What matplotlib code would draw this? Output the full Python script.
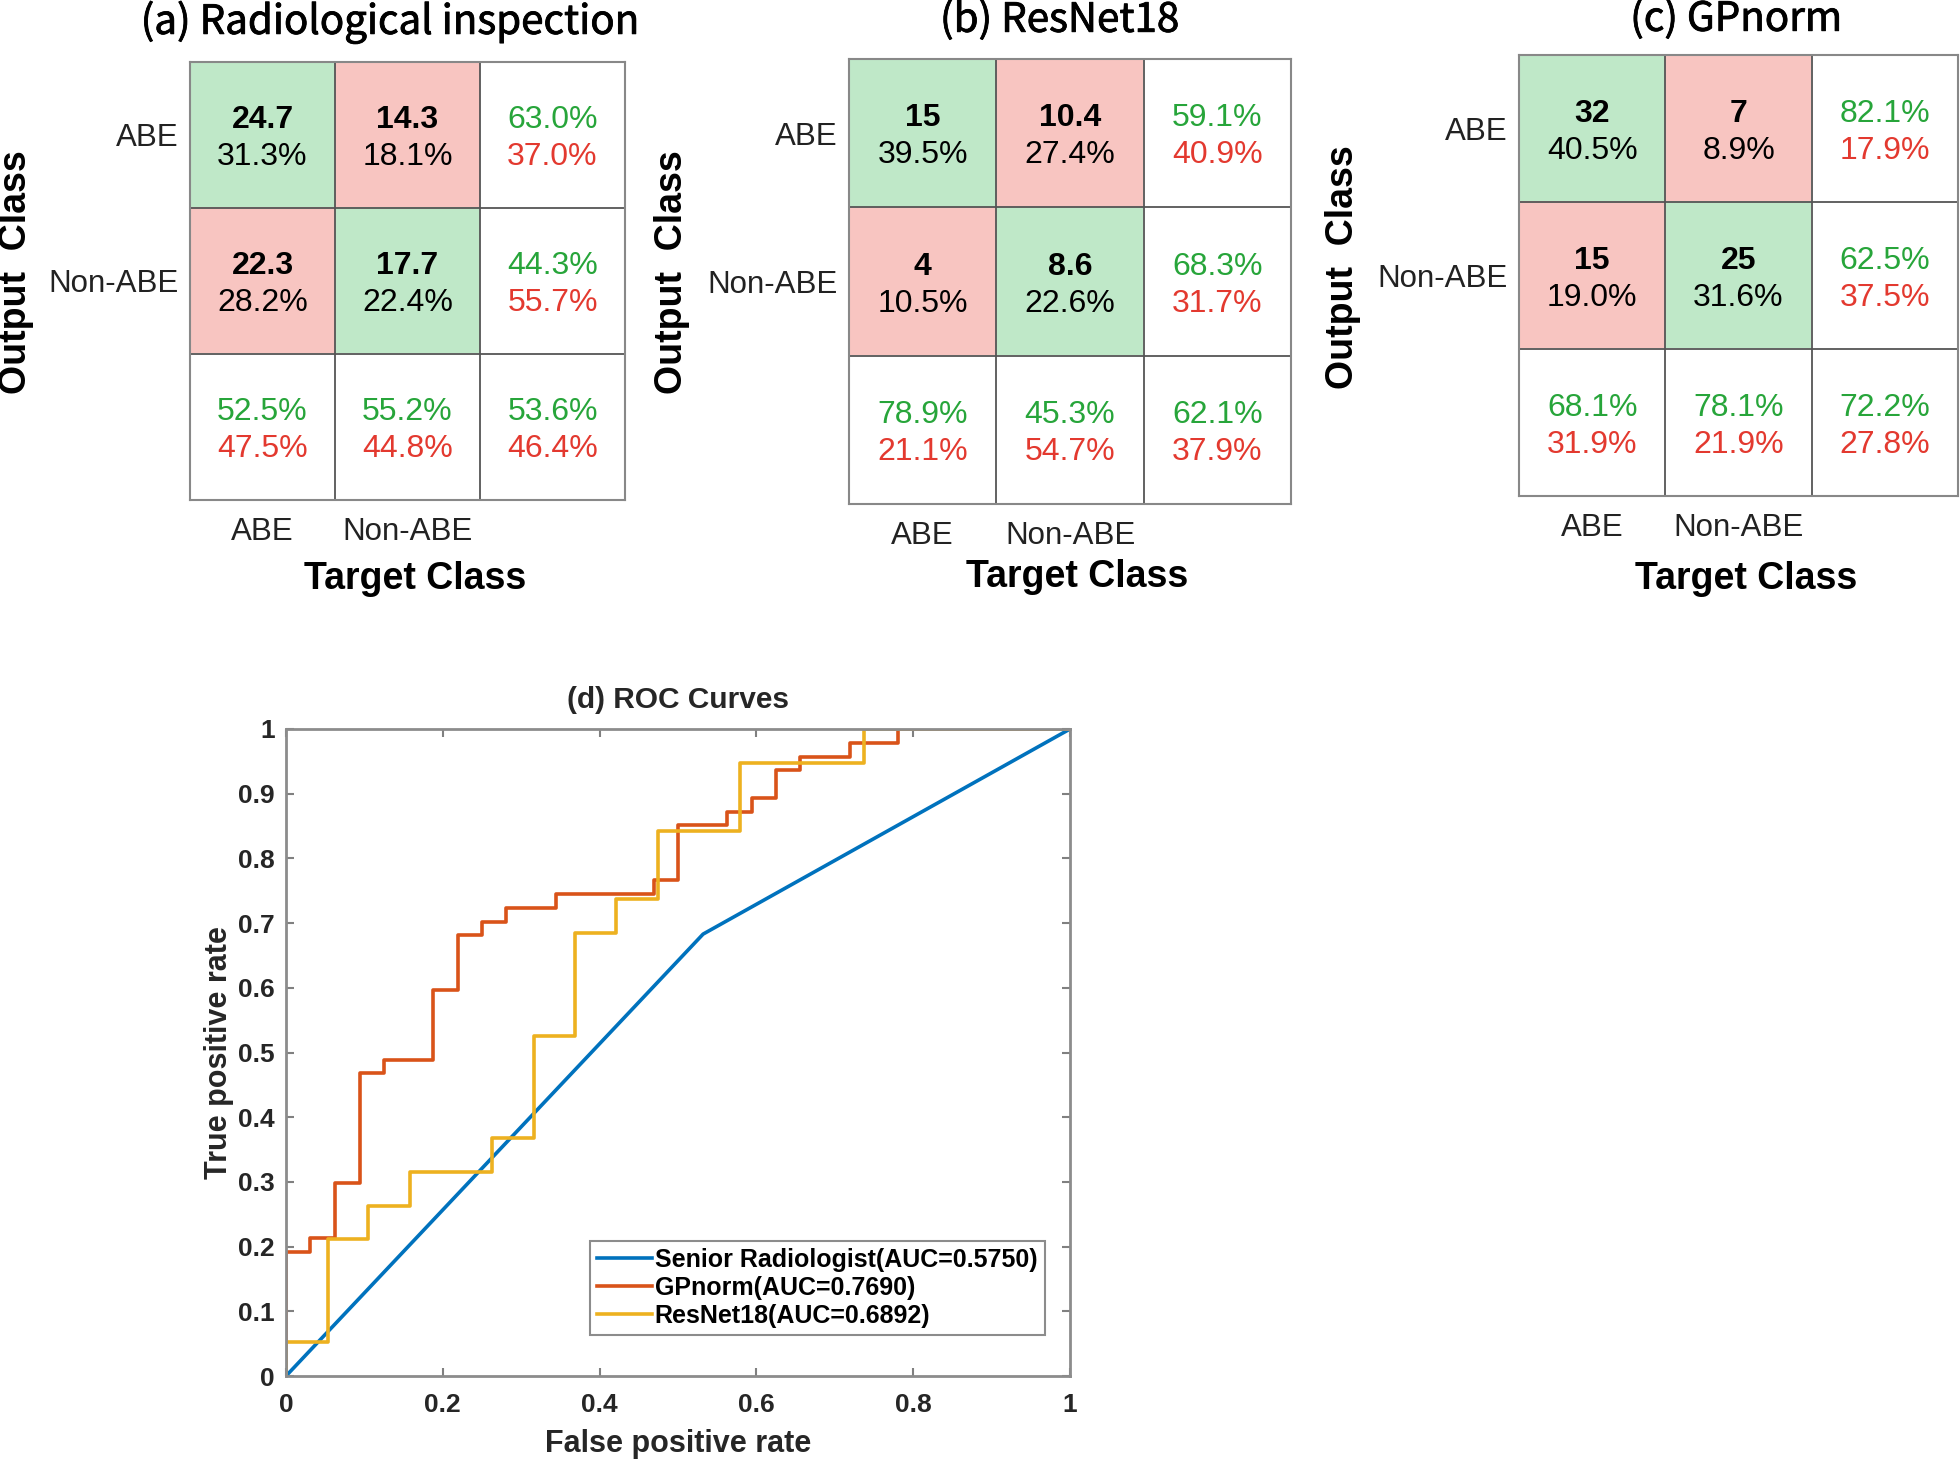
import numpy as np
import matplotlib
matplotlib.use("Agg")
import matplotlib.pyplot as plt
from matplotlib import ticker
import matplotlib.patheffects as pe

plt.rcParams['font.family'] = ['Liberation Sans', 'DejaVu Sans']

classes = ["ABE", "Non-ABE"]

# (a) Radiological inspection
rad_counts = [[24.7, 14.3], [22.3, 17.7]]
rad_pct = [[31.3, 18.1], [28.2, 22.4]]
rad_row = [[63.0, 37.0], [44.3, 55.7]]
rad_col = [[52.5, 47.5], [55.2, 44.8]]
rad_all = [53.6, 46.4]

# (b) ResNet18
res_counts = [[15, 10.4], [4, 8.6]]
res_pct = [[39.5, 27.4], [10.5, 22.6]]
res_row = [[59.1, 40.9], [68.3, 31.7]]
res_col = [[78.9, 21.1], [45.3, 54.7]]
res_all = [62.1, 37.9]

# (c) GPnorm
gp_counts = [[32, 7], [15, 25]]
gp_pct = [[40.5, 8.9], [19.0, 31.6]]
gp_row = [[82.1, 17.9], [62.5, 37.5]]
gp_col = [[68.1, 31.9], [78.1, 21.9]]
gp_all = [72.2, 27.8]

titles = ["(a) Radiological inspection", "(b) ResNet18", "(c) GPnorm"]

# (d) ROC curves
sr_fpr = [0, 0.532, 1]
sr_tpr = [0, 0.683, 1]
gp_fpr = [0, 0, 0.031, 0.063, 0.094, 0.125, 0.188, 0.219, 0.25, 0.281, 0.344,
          0.469, 0.5, 0.563, 0.594, 0.625, 0.656, 0.719, 0.781, 1]
gp_tpr = [0, 0.191, 0.213, 0.298, 0.468, 0.489, 0.596, 0.681, 0.702, 0.723, 0.745,
          0.766, 0.851, 0.872, 0.894, 0.936, 0.957, 0.979, 1.0, 1.0]
rn_fpr = [0, 0, 0.053, 0.105, 0.158, 0.263, 0.316, 0.368, 0.421, 0.474, 0.579, 0.737, 1]
rn_tpr = [0, 0.053, 0.211, 0.263, 0.316, 0.368, 0.526, 0.684, 0.737, 0.842, 0.947, 1.0, 1.0]
roc_names = ["Senior Radiologist(AUC=0.5750)", "GPnorm(AUC=0.7690)", "ResNet18(AUC=0.6892)"]

GREEN_BG = np.array([191, 232, 200]) / 255
RED_BG = np.array([248, 197, 193]) / 255
GREEN_TXT = "#27a53a"
RED_TXT = "#e3392f"
FS = 23


def draw_confusion(ax, counts, pct, row, col, overall, title, title_x, title_y, target_y):
    counts = np.array(counts)
    rgb = np.ones((3, 3, 3))
    for i in range(2):
        for j in range(2):
            rgb[i, j] = GREEN_BG if i == j else RED_BG
    ax.imshow(rgb, extent=(0, 3, 3, 0), aspect='auto')
    for k in range(1, 3):
        ax.axhline(k, color='#555555', lw=1.3)
        ax.axvline(k, color='#555555', lw=1.3)
    for s in ax.spines.values():
        s.set_color('#888888')
        s.set_linewidth(1.5)

    top, bot = 0.4, 0.65
    for i in range(2):
        for j in range(2):
            ax.text(j + 0.5, i + top, f"{counts[i, j]:g}", ha='center', va='center',
                    fontsize=FS, fontweight='bold')
            ax.text(j + 0.5, i + bot, f"{pct[i][j]:.1f}%", ha='center', va='center', fontsize=FS)
        # row summary (right column)
        ax.text(2.5, i + top, f"{row[i][0]:.1f}%", ha='center', va='center', fontsize=FS, color=GREEN_TXT)
        ax.text(2.5, i + bot, f"{row[i][1]:.1f}%", ha='center', va='center', fontsize=FS, color=RED_TXT)
        # column summary (bottom row)
        ax.text(i + 0.5, 2 + top, f"{col[i][0]:.1f}%", ha='center', va='center', fontsize=FS, color=GREEN_TXT)
        ax.text(i + 0.5, 2 + bot, f"{col[i][1]:.1f}%", ha='center', va='center', fontsize=FS, color=RED_TXT)
    ax.text(2.5, 2 + top, f"{overall[0]:.1f}%", ha='center', va='center', fontsize=FS, color=GREEN_TXT)
    ax.text(2.5, 2 + bot, f"{overall[1]:.1f}%", ha='center', va='center', fontsize=FS, color=RED_TXT)

    ax.set_xlim(0, 3)
    ax.set_ylim(3, 0)
    ax.set_xticks([0.5, 1.5])
    ax.set_xticklabels(classes)
    ax.set_yticks([0.5, 1.5])
    ax.set_yticklabels(classes)
    ax.tick_params(length=0, labelsize=22.5, colors='#222222')
    ax.tick_params(axis='x', pad=12)
    ax.tick_params(axis='y', pad=8)
    ax.set_ylabel("Output  Class", fontsize=27, fontweight='bold', va='center')
    ax.yaxis.set_label_coords(-0.40, 0.52)
    ax.set_xlabel("Target Class", fontsize=27, fontweight='bold', va='center')
    ax.xaxis.set_label_coords(0.517, target_y)
    ax.text(title_x, title_y, title, transform=ax.transAxes, ha='center', va='center',
            fontsize=29, family=['Noto Sans CJK SC', 'DejaVu Sans'],
            path_effects=[pe.withStroke(linewidth=0.6, foreground='black')])


fig = plt.figure(figsize=(19.6, 14.64), dpi=100)

W, H = 1960, 1464
boxes = [(190, 62, 625, 500), (849, 59, 1291, 504), (1519, 55, 1958, 496)]
title_xs = [0.46, 0.477, 0.495]
title_ys = [1.092, 1.088, 1.082]
target_ys = [-0.18, -0.165, -0.188]
panels = [
    (rad_counts, rad_pct, rad_row, rad_col, rad_all),
    (res_counts, res_pct, res_row, res_col, res_all),
    (gp_counts, gp_pct, gp_row, gp_col, gp_all),
]
for (x0, y0, x1, y1), data, title, tx, tyy, ty in zip(boxes, panels, titles, title_xs, title_ys, target_ys):
    ax = fig.add_axes([x0 / W, 1 - y1 / H, (x1 - x0) / W, (y1 - y0) / H])
    draw_confusion(ax, *data, title, tx, tyy, ty)

# ROC panel
ax = fig.add_axes([286 / W, 1 - 1376 / H, (1070 - 286) / W, (1376 - 729) / H])
ax.plot(sr_fpr, sr_tpr, color='#0072BD', lw=2.6, label=roc_names[0])
ax.step(gp_fpr, gp_tpr, where='post', color='#D95319', lw=2.6, label=roc_names[1])
ax.step(rn_fpr, rn_tpr, where='post', color='#EDB120', lw=2.6, label=roc_names[2])
ax.set_xlim(0, 1)
ax.set_ylim(0, 1)
ax.set_xticks(np.arange(0, 1.01, 0.2))
ax.set_yticks(np.arange(0, 1.01, 0.1))
ax.xaxis.set_major_formatter(ticker.FormatStrFormatter('%g'))
ax.yaxis.set_major_formatter(ticker.FormatStrFormatter('%g'))
ax.tick_params(direction='in', top=True, right=True, length=6, width=1.5,
               color='#808080', labelsize=19, labelcolor='#262626')
ax.tick_params(axis='x', pad=12)
ax.tick_params(axis='y', pad=8)
for lab in ax.get_xticklabels() + ax.get_yticklabels():
    lab.set_fontweight('bold')
for s in ax.spines.values():
    s.set_color('#8c8c8c')
    s.set_linewidth(2)
ax.set_title("(d) ROC Curves", fontsize=21.5, fontweight='bold', color='#262626', pad=15)
ax.set_xlabel("False positive rate", fontsize=22, fontweight='bold', color='#262626', va='center')
ax.set_ylabel("True positive rate", fontsize=22, fontweight='bold', color='#262626', va='center')
ax.xaxis.set_label_coords(0.5, -0.105)
ax.yaxis.set_label_coords(-0.0855, 0.5)
leg = ax.legend(loc='lower right', bbox_to_anchor=(0.968, 0.063), borderaxespad=0,
                prop={'weight': 'bold', 'size': 18}, fancybox=False,
                handlelength=2.2, handletextpad=0.1, borderpad=0.3, labelspacing=0.15,
                framealpha=1, edgecolor='#8c8c8c')
leg.get_frame().set_linewidth(1.5)

fig.savefig("out.png", dpi=100)
